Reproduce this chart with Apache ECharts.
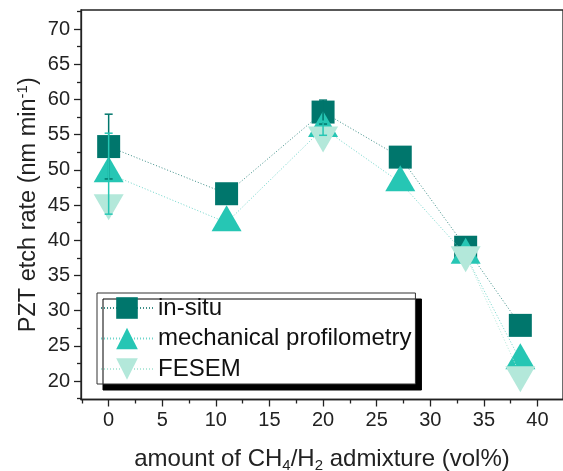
<!DOCTYPE html>
<html><head><meta charset="utf-8">
<script src="https://cdn.jsdelivr.net/npm/echarts@6/dist/echarts.min.js"></script>
<style>html,body{margin:0;padding:0;background:#fff}#c{width:563px;height:471px}</style>
</head><body><div id="c"></div>
<script>
// ---- data ----
const xValues = [0, 11, 20, 27.2, 33.3, 38.4];
const inSitu = [53.3, 46.6, 58.2, 51.8, 39.0, 27.9];
const mechProf = [49.45, 42.5, 55.9, 48.2, 37.9, 22.9];
const fesem = [45.3, null, 54.9, null, 37.9, 20.85];
const errX = [0, 20];
const inSituErr = [4.6, 1.7];
const mechErr = [5.75, 1.0];
const yMajorTicks = [20, 25, 30, 35, 40, 45, 50, 55, 60, 65, 70];
const yMinorTicks = [17.5, 22.5, 27.5, 32.5, 37.5, 42.5, 47.5, 52.5, 57.5, 62.5, 67.5, 72.5];
const xMajorTicks = [0, 5, 10, 15, 20, 25, 30, 35, 40];
const xMinorTicks = [-2.5, 2.5, 7.5, 12.5, 17.5, 22.5, 27.5, 32.5, 37.5, 42.5];
const seriesNames = ['in-situ', 'mechanical profilometry', 'FESEM'];

const C1 = '#00766c', C2 = '#26c6b4', C3 = '#b3e8da';
const FONT = 'Liberation Sans, Arial, sans-serif';
const AX = '#222';
const downTri = 'path://M0,0L2,0L1,1.732Z';

const pairs = (ys) => xValues.map((x, i) => [x, ys[i] == null ? '-' : ys[i]]);
const errData = (ys, errs) => errX.map((x, i) => [x, ys[xValues.indexOf(x)], errs[i]]);

function errRender(color) {
  return function (params, api) {
    const x = api.value(0), y = api.value(1), e = api.value(2);
    const t = api.coord([x, y + e]), b = api.coord([x, y - e]);
    const hw = 4;
    const st = { stroke: color, lineWidth: 1.5 };
    return { type: 'group', children: [
      { type: 'line', shape: { x1: t[0], y1: t[1], x2: b[0], y2: b[1] }, style: st },
      { type: 'line', shape: { x1: t[0] - hw, y1: t[1], x2: t[0] + hw, y2: t[1] }, style: st },
      { type: 'line', shape: { x1: b[0] - hw, y1: b[1], x2: b[0] + hw, y2: b[1] }, style: st }
    ]};
  };
}

const xMin = -2.58, xMax = 42.38, yMin = 17.37, yMax = 72.7;
const lineSt = { color: AX, width: 1.3 };

const chart = echarts.init(document.getElementById('c'), null, { renderer: 'canvas' });
chart.setOption({
  animation: false,
  backgroundColor: '#fff',
  grid: { left: 81, top: 10, width: 482, height: 389.5, containLabel: false, outerBoundsMode: 'none',
    show: true, borderColor: AX, borderWidth: 1.3, backgroundColor: 'transparent' },
  xAxis: [
    { type: 'value', min: xMin, max: xMax, position: 'bottom',
      axisLine: { show: true, onZero: false, lineStyle: lineSt },
      axisTick: { show: true, length: 4, customValues: xMinorTicks, lineStyle: lineSt },
      axisLabel: { show: false }, splitLine: { show: false } },
    { type: 'value', min: xMin, max: xMax, position: 'bottom',
      axisLine: { show: false, onZero: false },
      axisTick: { show: true, length: 7, customValues: xMajorTicks, lineStyle: lineSt },
      axisLabel: { show: true, customValues: xMajorTicks, fontSize: 20, color: AX, fontFamily: FONT, margin: 11 },
      splitLine: { show: false },
      name: 'amount of CH{sub|4}/H{sub|2} admixture (vol%)',
      nameLocation: 'middle', nameGap: 46, nameMoveOverlap: false,
      nameTextStyle: { fontSize: 24, color: AX, fontFamily: FONT, lineHeight: 28,
        rich: { sub: { fontSize: 15, lineHeight: 15, verticalAlign: 'bottom', fontFamily: FONT, color: AX } } } }
  ],
  yAxis: [
    { type: 'value', min: yMin, max: yMax, position: 'left',
      axisLine: { show: true, onZero: false, lineStyle: lineSt },
      axisTick: { show: true, length: 4, customValues: yMinorTicks, lineStyle: lineSt },
      axisLabel: { show: false }, splitLine: { show: false } },
    { type: 'value', min: yMin, max: yMax, position: 'left',
      axisLine: { show: false, onZero: false },
      axisTick: { show: true, length: 7, customValues: yMajorTicks, lineStyle: lineSt },
      axisLabel: { show: true, customValues: yMajorTicks, fontSize: 20, color: AX, fontFamily: FONT, margin: 11 },
      splitLine: { show: false },
      name: 'PZT etch rate (nm min{sup|-1})',
      nameLocation: 'middle', nameGap: 38, nameRotate: 90, nameMoveOverlap: false,
      nameTextStyle: { fontSize: 23.5, color: AX, fontFamily: FONT, lineHeight: 28,
        rich: { sup: { fontSize: 15, lineHeight: 15, verticalAlign: 'top', fontFamily: FONT, color: AX } } } }
  ],
  legend: {
    orient: 'vertical', left: 97, top: 293,
    data: seriesNames,
    itemWidth: 52, itemHeight: 27, itemGap: 6.5, itemTextGap: 9,
    padding: [3, 4, 3, 3],
    textStyle: { fontSize: 24, color: '#111', fontFamily: FONT },
    backgroundColor: '#fff', borderColor: '#333', borderWidth: 1,
    shadowColor: '#000', shadowOffsetX: 6, shadowOffsetY: 6, shadowBlur: 0
  },
  series: [
    { name: seriesNames[0], type: 'line', data: pairs(inSitu), symbol: 'rect', symbolSize: [23, 23],
      itemStyle: { color: C1 }, lineStyle: { color: '#3d8f88', width: 1, type: [1, 2] }, z: 3 },
    { name: seriesNames[1], type: 'line', data: pairs(mechProf), symbol: 'triangle', symbolSize: [30, 26], symbolOffset: [0, -4.3],
      itemStyle: { color: C2 }, lineStyle: { color: '#6fd6cb', width: 1, type: [1, 2] }, z: 4 },
    { name: seriesNames[2], type: 'line', data: pairs(fesem), symbol: downTri, symbolSize: [30, 26], symbolOffset: [0, 4.3],
      connectNulls: false,
      itemStyle: { color: C3 }, lineStyle: { color: '#b3e8da', width: 1, type: [1, 2] }, z: 5 },
    { type: 'custom', data: errData(inSitu, inSituErr), renderItem: errRender(C1), z: 10 },
    { type: 'custom', data: errData(mechProf, mechErr), renderItem: errRender(C2), z: 11 }
  ]
});
</script></body></html>
